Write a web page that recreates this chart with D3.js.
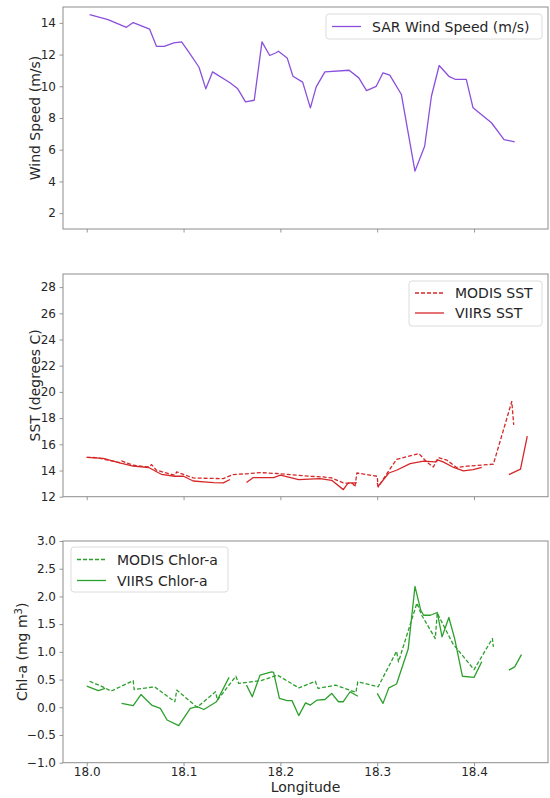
<!DOCTYPE html>
<html>
<head>
<meta charset="utf-8">
<script src="https://cdn.jsdelivr.net/npm/d3@7"></script>
<style>
  html, body { margin: 0; padding: 0; background: #fff; }
  svg { display: block; font-family: "DejaVu Sans", sans-serif; }
</style>
</head>
<body>
<div id="chart"></div>
<script>
// ---- data: transect along longitude ----
const windLon = [18.003, 18.022, 18.041, 18.048, 18.065, 18.072, 18.080, 18.090, 18.098, 18.106,
  18.116, 18.123, 18.130, 18.148, 18.156, 18.164, 18.173, 18.181, 18.189, 18.195,
  18.198, 18.207, 18.213, 18.223, 18.231, 18.237, 18.246, 18.271, 18.281, 18.289,
  18.299, 18.306, 18.313, 18.325, 18.339, 18.349, 18.356, 18.364, 18.374, 18.381,
  18.392, 18.399, 18.418, 18.431, 18.442];
const windSpeed = [14.52, 14.21, 13.72, 14.02, 13.60, 12.52, 12.52, 12.74, 12.80, 12.10,
  11.20, 9.84, 10.91, 10.22, 9.84, 9.02, 9.12, 12.80, 11.94, 12.10,
  12.21, 11.79, 10.63, 10.26, 8.64, 9.96, 10.91, 11.01, 10.53, 9.73,
  10.00, 10.85, 10.70, 9.48, 4.65, 6.22, 9.37, 11.31, 10.63, 10.43,
  10.43, 8.64, 7.70, 6.64, 6.50];

const modisSstLon = [18.000, 18.009, 18.019, 18.034, 18.036, 18.048, 18.064, 18.067, 18.072, 18.091,
  18.093, 18.110, 18.125, 18.141, 18.151, 18.165, 18.179, 18.196, 18.217, 18.231,
  18.244, 18.253, 18.265, 18.275, 18.277, 18.279, 18.300, 18.301, 18.310, 18.320,
  18.343, 18.351, 18.358, 18.363, 18.372, 18.382, 18.393, 18.420, 18.439, 18.441];
const modisSst = [15.00, 14.99, 14.84, 14.60, 14.73, 14.40, 14.27, 14.45, 14.02, 13.64,
  13.89, 13.43, 13.40, 13.38, 13.69, 13.75, 13.84, 13.77, 13.64, 13.56,
  13.51, 13.43, 13.05, 13.00, 12.74, 13.81, 13.56, 12.74, 13.77, 14.84,
  15.30, 14.66, 14.27, 14.99, 14.79, 14.23, 14.33, 14.48, 19.27, 17.48];

// null marks a gap in the swath
const viirsSstLon = [18.000, 18.017, 18.034, 18.048, 18.064, 18.077, 18.091, 18.100, 18.110, 18.124,
  18.131, 18.141, 18.148, null,
  18.165, 18.172, 18.193, 18.200, 18.219, 18.241, 18.253, 18.265, 18.270, 18.279, null,
  18.300, 18.301, 18.312, 18.320, 18.334, 18.348, 18.360, 18.363, 18.368, 18.379,
  18.389, 18.399, 18.408, null,
  18.436, 18.448, 18.455];
const viirsSst = [15.00, 14.92, 14.58, 14.33, 14.23, 13.71, 13.56, 13.56, 13.20, 13.12,
  13.08, 13.05, 13.31, null,
  13.08, 13.46, 13.46, 13.64, 13.31, 13.38, 13.25, 12.54, 13.05, 13.05, null,
  13.05, 12.79, 13.81, 14.02, 14.53, 14.71, 14.66, 14.79, 14.66, 14.23,
  13.97, 14.07, 14.23, null,
  13.69, 14.10, 16.63];

const modisChlLon = [18.003, 18.019, 18.025, 18.048, 18.049, 18.070, 18.091, 18.093, 18.114, 18.133,
  18.135, 18.154, 18.157, 18.180, 18.197, 18.219, 18.236, 18.239, 18.257, 18.278,
  18.280, 18.301, 18.320, 18.322, 18.341, 18.346, 18.360, 18.362, 18.378, 18.400,
  18.419, 18.420];
const modisChl = [0.47, 0.35, 0.29, 0.48, 0.32, 0.37, 0.10, 0.31, 0.00, 0.28,
  0.13, 0.56, 0.43, 0.48, 0.58, 0.35, 0.47, 0.34, 0.40, 0.27,
  0.46, 0.37, 1.01, 0.82, 1.88, 1.66, 1.24, 1.70, 1.15, 0.68,
  1.24, 1.09];

const viirsChlLon = [18.000, 18.012, 18.019, null,
  18.036, 18.048, 18.056, 18.067, 18.076, 18.083, 18.095, 18.107, 18.114, 18.121,
  18.134, 18.147, null,
  18.165, 18.171, 18.179, 18.191, 18.193, 18.199, 18.207, 18.212, 18.219, 18.226,
  18.231, 18.238, 18.246, 18.253, 18.260, 18.265, 18.272, 18.280, null,
  18.300, 18.306, 18.312, 18.320, 18.332, 18.339, 18.345, 18.348, 18.355, 18.362,
  18.367, 18.374, 18.380, 18.388, 18.400, 18.408, null,
  18.436, 18.442, 18.449];
const viirsChl = [0.38, 0.30, 0.34, null,
  0.07, 0.03, 0.23, 0.04, -0.02, -0.23, -0.33, -0.02, 0.01, -0.04,
  0.10, 0.54, null,
  0.40, 0.19, 0.58, 0.64, 0.63, 0.16, 0.12, 0.12, -0.15, 0.08,
  0.04, 0.13, 0.14, 0.25, 0.10, 0.10, 0.28, 0.20, null,
  0.25, 0.07, 0.35, 0.42, 1.05, 2.18, 1.75, 1.66, 1.66, 1.71,
  1.27, 1.62, 1.24, 0.56, 0.54, 0.82, null,
  0.67, 0.73, 0.95];

const lonTicks = [18.0, 18.1, 18.2, 18.3, 18.4];
const windTicks = [2, 4, 6, 8, 10, 12, 14];
const sstTicks = [12, 14, 16, 18, 20, 22, 24, 26, 28];
const chlTicks = [-1.0, -0.5, 0.0, 0.5, 1.0, 1.5, 2.0, 2.5, 3.0];

// ---- layout ----
const W = 550, H = 798;
const left = 63, right = 548;
const frameColor = "#8c8c8c";
const textColor = "#262626";
const purple = "#8a4fdc", red = "#d62728", green = "#2ca02c";

const svg = d3.select("#chart").append("svg")
  .attr("width", W).attr("height", H);

const x = d3.scaleLinear().domain([17.9755, 18.4764]).range([left, right]);

const zip = (xs, ys) => xs.map((v, i) => [v, ys[i]]);

function panel(cfg) {
  const y = d3.scaleLinear().domain(cfg.yDomain).range([cfg.bottom, cfg.top]);
  const g = svg.append("g");

  // y axis
  const ya = g.append("g").attr("transform", `translate(${left},0)`)
    .call(d3.axisLeft(y).tickValues(cfg.yTicks).tickFormat(cfg.yFormat)
      .tickSize(3.5).tickPadding(3.5).tickSizeOuter(0));
  // x axis
  const xa = g.append("g").attr("transform", `translate(0,${cfg.bottom})`)
    .call(d3.axisBottom(x).tickValues(lonTicks).tickFormat(cfg.xLabels ? d3.format(".1f") : () => "")
      .tickSize(3.5).tickPadding(1).tickSizeOuter(0));
  [ya, xa].forEach(a => {
    a.select(".domain").remove();
    a.selectAll(".tick line").attr("stroke", frameColor).attr("stroke-width", 0.9);
    a.selectAll(".tick text").attr("fill", textColor)
      .style("font-size", "12px").style("font-family", "DejaVu Sans, sans-serif");
  });

  // frame
  g.append("rect")
    .attr("x", left).attr("y", cfg.top)
    .attr("width", right - left).attr("height", cfg.bottom - cfg.top)
    .attr("fill", "none").attr("stroke", frameColor).attr("stroke-width", 1);

  // y label
  const lab = g.append("text")
    .attr("transform", `translate(${cfg.labelX},${(cfg.top + cfg.bottom) / 2}) rotate(-90)`)
    .attr("text-anchor", "middle")
    .attr("fill", textColor)
    .style("font-size", "14px");
  cfg.label(lab);

  // series
  const line = d3.line()
    .defined(d => d[0] != null && d[1] != null)
    .x(d => x(d[0])).y(d => y(d[1]));
  cfg.series.forEach(s => {
    g.append("path")
      .datum(zip(s.lon, s.val))
      .attr("d", line)
      .attr("fill", "none")
      .attr("stroke", s.color)
      .attr("stroke-width", 1.3)
      .attr("stroke-linejoin", "round")
      .attr("stroke-dasharray", s.dash ? "4,2" : null);
  });

  // legend
  const L = cfg.legend;
  const lg = g.append("g");
  lg.append("rect")
    .attr("x", L.x).attr("y", L.y).attr("width", L.w).attr("height", L.h)
    .attr("rx", 3).attr("fill", "#fff").attr("fill-opacity", 0.85)
    .attr("stroke", "#dcdcdc").attr("stroke-width", 1);
  cfg.series.forEach((s, i) => {
    const cy = L.y + L.firstRow + i * L.rowStep;
    lg.append("line")
      .attr("x1", L.x + 6).attr("x2", L.x + 35)
      .attr("y1", cy).attr("y2", cy)
      .attr("stroke", s.color).attr("stroke-width", 1.3)
      .attr("stroke-dasharray", s.dash ? "4,2" : null);
    lg.append("text")
      .attr("x", L.x + 46).attr("y", cy + 5)
      .attr("fill", textColor)
      .style("font-size", "14px")
      .text(s.name);
  });
}

panel({
  top: 7, bottom: 229, yDomain: [1, 15], yTicks: windTicks, yFormat: d3.format("d"),
  labelX: 40, label: t => t.text("Wind Speed (m/s)"), xLabels: false,
  series: [{ lon: windLon, val: windSpeed, color: purple, name: "SAR Wind Speed (m/s)" }],
  legend: { x: 326, y: 14, w: 216, h: 25, firstRow: 12.5, rowStep: 20 }
});

panel({
  top: 274, bottom: 496.7, yDomain: [12, 29], yTicks: sstTicks, yFormat: d3.format("d"),
  labelX: 40, label: t => t.text("SST (degrees C)"), xLabels: false,
  series: [
    { lon: modisSstLon, val: modisSst, color: red, dash: true, name: "MODIS SST" },
    { lon: viirsSstLon, val: viirsSst, color: red, name: "VIIRS SST" }
  ],
  legend: { x: 409, y: 281, w: 133, h: 45, firstRow: 12, rowStep: 20 }
});

panel({
  top: 541, bottom: 762.7, yDomain: [-1, 3], yTicks: chlTicks, yFormat: d3.format(".1f"),
  labelX: 27, xLabels: true,
  label: t => {
    t.append("tspan").text("Chl-a (mg m");
    t.append("tspan").attr("dy", -5).style("font-size", "10px").text("3");
    t.append("tspan").attr("dy", 5).text(")");
  },
  series: [
    { lon: modisChlLon, val: modisChl, color: green, dash: true, name: "MODIS Chlor-a" },
    { lon: viirsChlLon, val: viirsChl, color: green, name: "VIIRS Chlor-a" }
  ],
  legend: { x: 71, y: 547, w: 157, h: 45, firstRow: 12.5, rowStep: 21 }
});

// shared x label
svg.append("text")
  .attr("x", (left + right) / 2).attr("y", 792)
  .attr("text-anchor", "middle")
  .attr("fill", textColor)
  .style("font-size", "14px")
  .text("Longitude");
</script>
</body>
</html>
